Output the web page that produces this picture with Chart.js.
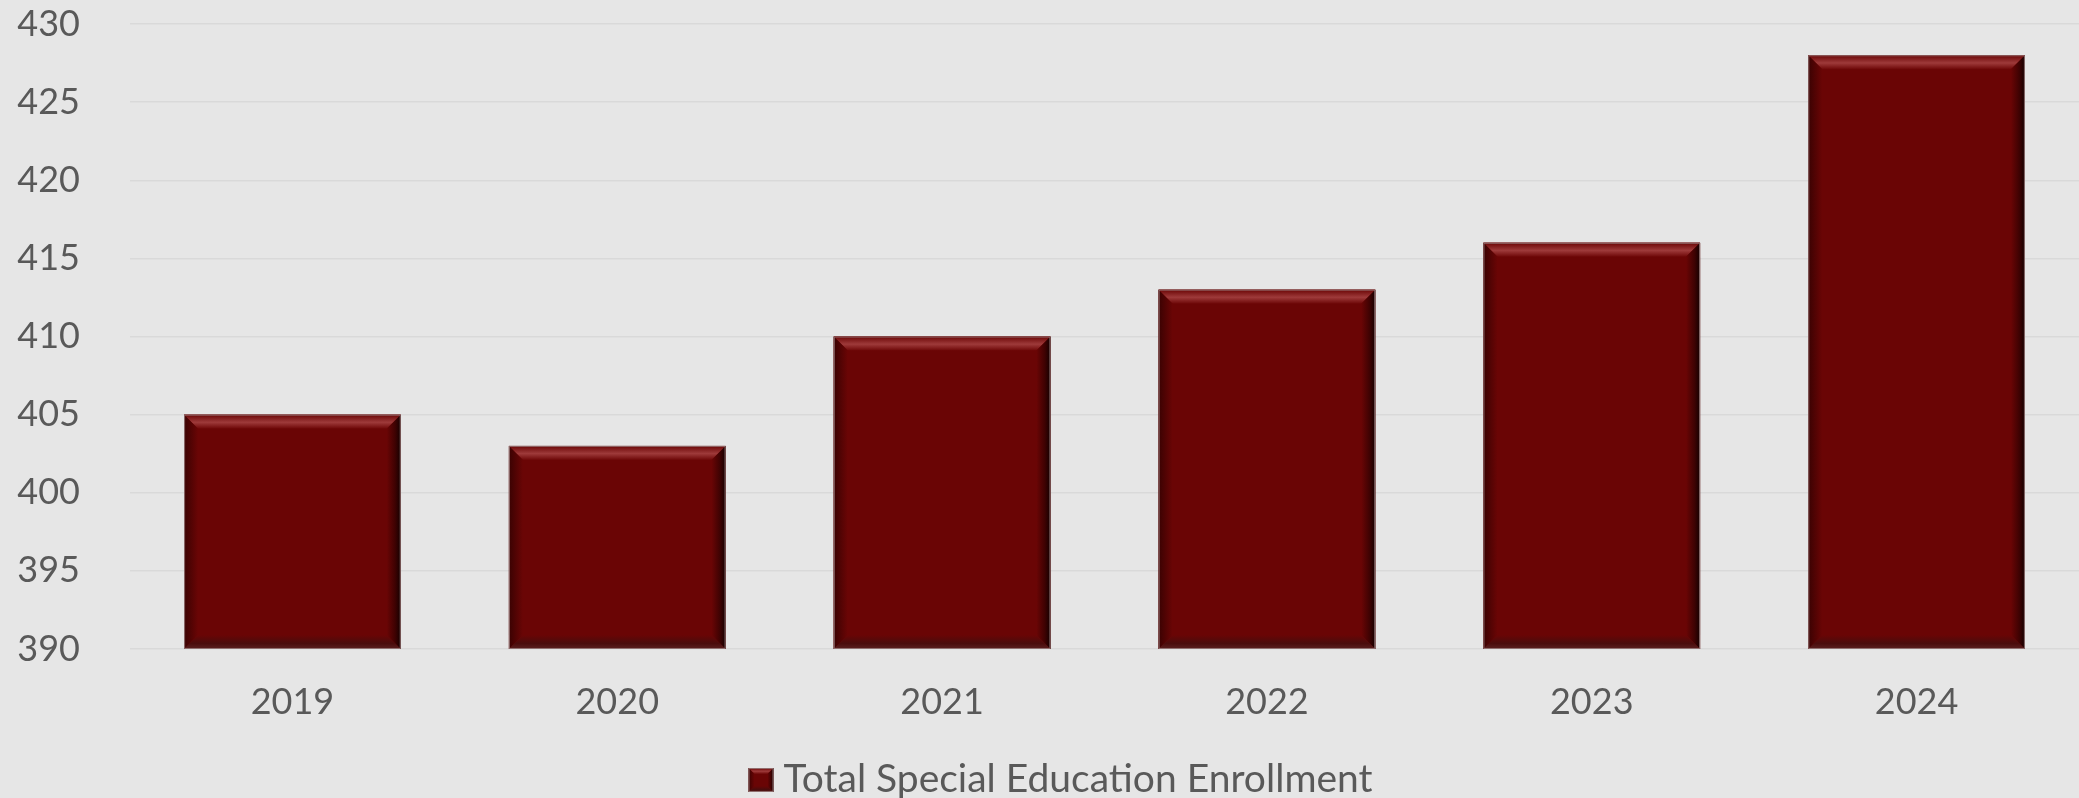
<!DOCTYPE html>
<html>
<head>
<meta charset="utf-8">
<script src="https://cdn.jsdelivr.net/npm/chart.js@4/dist/chart.umd.min.js"></script>
<style>
  html, body { margin: 0; padding: 0; background: #e6e6e6; }
  #wrap { width: 2079px; height: 798px; }
</style>
</head>
<body>
<div id="wrap"><canvas id="c" width="2079" height="798"></canvas></div>
<script>
// Enrollment by school year
const years = ['2019', '2020', '2021', '2022', '2023', '2024'];
const enrollment = [405, 403, 410, 413, 416, 428];
const seriesName = 'Total Special Education Enrollment';
const yTicks = [390, 395, 400, 405, 410, 415, 420, 425, 430];

const BG = '#e6e6e6';
const BAR = '#6a0505';
const TEXT = '#595959';
const FONT = "Lato, 'Noto Sans', sans-serif";

// Paints the page-grey background behind everything
const backgroundPlugin = {
  id: 'bg',
  beforeDraw(chart) {
    const ctx = chart.ctx;
    ctx.save();
    ctx.fillStyle = BG;
    ctx.fillRect(0, 0, chart.width, chart.height);
    ctx.restore();
  }
};

// Draws a bevelled rectangle: flat face plus four shaded edges
function bevelRect(ctx, l, t, r, b, e) {
  ctx.save();
  ctx.fillStyle = BAR;
  ctx.fillRect(l, t, r - l, b - t);
  // top edge with a light highlight
  let g = ctx.createLinearGradient(0, t, 0, t + e);
  g.addColorStop(0, '#6a0505');
  g.addColorStop(0.55, '#9e3a3a');
  g.addColorStop(1, '#6e0808');
  ctx.fillStyle = g;
  ctx.beginPath();
  ctx.moveTo(l, t); ctx.lineTo(r, t); ctx.lineTo(r - e, t + e); ctx.lineTo(l + e, t + e); ctx.closePath();
  ctx.fill();
  // right edge, darkest
  g = ctx.createLinearGradient(r - e, 0, r, 0);
  g.addColorStop(0, '#6a0505');
  g.addColorStop(0.6, '#3e0202');
  g.addColorStop(1, '#140000');
  ctx.fillStyle = g;
  ctx.beginPath();
  ctx.moveTo(r, t); ctx.lineTo(r, b); ctx.lineTo(r - e, b - e); ctx.lineTo(r - e, t + e); ctx.closePath();
  ctx.fill();
  // left edge
  g = ctx.createLinearGradient(l, 0, l + e, 0);
  g.addColorStop(0, '#3a0202');
  g.addColorStop(1, '#6a0505');
  ctx.fillStyle = g;
  ctx.beginPath();
  ctx.moveTo(l, t); ctx.lineTo(l + e, t + e); ctx.lineTo(l + e, b - e); ctx.lineTo(l, b); ctx.closePath();
  ctx.fill();
  // bottom edge
  g = ctx.createLinearGradient(0, b - e, 0, b);
  g.addColorStop(0, '#6a0505');
  g.addColorStop(0.6, '#4a0c0c');
  g.addColorStop(1, '#5a2020');
  ctx.fillStyle = g;
  ctx.beginPath();
  ctx.moveTo(l, b); ctx.lineTo(r, b); ctx.lineTo(r - e, b - e); ctx.lineTo(l + e, b - e); ctx.closePath();
  ctx.fill();
  // thin outline
  ctx.strokeStyle = 'rgba(150,120,120,0.9)';
  ctx.lineWidth = 1;
  ctx.strokeRect(l + 0.5, t + 0.5, r - l - 1, b - t - 1);
  ctx.restore();
}

// Bevel applied to each bar from the bar element geometry
const bevelPlugin = {
  id: 'bevel',
  afterDatasetsDraw(chart) {
    const ctx = chart.ctx;
    const area = chart.chartArea;
    chart.getDatasetMeta(0).data.forEach(bar => {
      const l = bar.x - bar.width / 2, r = bar.x + bar.width / 2;
      const t = Math.max(bar.y, area.top);
      const b = Math.min(bar.base, area.bottom);
      bevelRect(ctx, l, t, r, b, 14);
    });
  }
};

// Legend entry below the category labels
const legendPlugin = {
  id: 'seriesLegend',
  afterDraw(chart) {
    const ctx = chart.ctx;
    const boxW = 25, boxH = 24, gap = 10;
    ctx.save();
    ctx.font = '39px ' + FONT;
    const textW = Math.min(ctx.measureText(seriesName).width, 600);
    const total = boxW + gap + textW;
    const x0 = chart.width / 2 + 21 - total / 2;
    bevelRect(ctx, x0, 768, x0 + boxW, 768 + boxH, 6);
    ctx.fillStyle = TEXT;
    ctx.textAlign = 'left';
    ctx.textBaseline = 'alphabetic';
    ctx.fillText(seriesName, x0 + boxW + gap, 792, 600);
    ctx.restore();
  }
};

new Chart(document.getElementById('c'), {
  type: 'bar',
  data: {
    labels: years,
    datasets: [{
      label: seriesName,
      data: enrollment,
      backgroundColor: BAR,
      borderWidth: 0,
      barPercentage: 0.667,
      categoryPercentage: 1.0
    }]
  },
  options: {
    responsive: false,
    animation: false,
    events: [],
    layout: { padding: { top: 24, right: 0, bottom: 0, left: 0 } },
    scales: {
      x: {
        afterFit(scale) {
          scale.height = 149;
          scale.paddingLeft = 0;
          scale.paddingRight = 0;
        },
        grid: { display: false, drawTicks: false },
        border: { display: false },
        ticks: { color: TEXT, font: { family: FONT, size: 36 }, padding: 32 }
      },
      y: {
        min: 390,
        max: 430,
        afterBuildTicks(scale) { scale.ticks = yTicks.map(v => ({ value: v })); },
        afterFit(scale) {
          scale.width = 130;
          scale.paddingTop = 0;
          scale.paddingBottom = 0;
        },
        grid: { color: '#d9d9d9', lineWidth: 1.5, drawTicks: false },
        border: { display: false },
        ticks: { color: TEXT, font: { family: FONT, size: 36 }, padding: 50 }
      }
    },
    plugins: {
      legend: { display: false },
      tooltip: { enabled: false }
    }
  },
  plugins: [backgroundPlugin, bevelPlugin, legendPlugin]
});
</script>
</body>
</html>
